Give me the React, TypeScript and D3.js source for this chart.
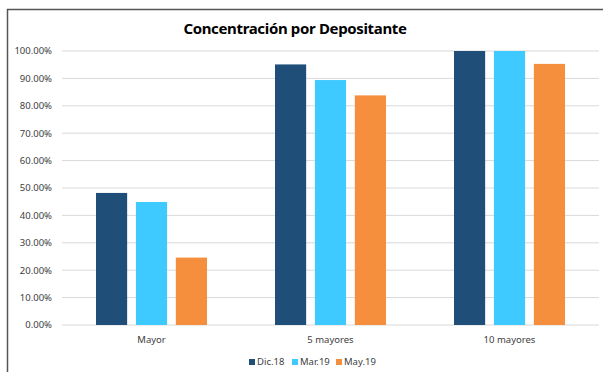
import React, { useEffect, useRef } from "react";
import * as d3 from "d3";

const categories = ["Mayor", "5 mayores", "10 mayores"];
const seriesNames = ["Dic.18", "Mar.19", "May.19"];
const dic18 = [48.2, 95.1, 100.0];
const mar19 = [44.9, 89.4, 100.0];
const may19 = [24.6, 83.8, 95.3];
const yTicks = [0, 10, 20, 30, 40, 50, 60, 70, 80, 90, 100];
const colors = ["#1f4e79", "#3ec9ff", "#f58f3d"];

const W = 603;
const H = 372;

export default function App() {
  const svgRef = useRef<SVGSVGElement | null>(null);

  useEffect(() => {
    const svg = d3.select(svgRef.current);
    svg.selectAll("*").remove();

    const font = "'Noto Sans', 'Open Sans', sans-serif";
    const margin = { top: 51, right: 4, bottom: 47, left: 62 };
    const innerW = W - margin.left - margin.right;
    const innerH = H - margin.top - margin.bottom;

    // frame (top + left edges visible)
    svg.append("line").attr("x1", 7).attr("x2", W).attr("y1", 9.5).attr("y2", 9.5)
      .attr("stroke", "#555").attr("stroke-width", 1.5);
    svg.append("line").attr("x1", 7.5).attr("x2", 7.5).attr("y1", 9).attr("y2", H)
      .attr("stroke", "#555").attr("stroke-width", 1.5);

    svg.append("text")
      .attr("x", 295).attr("y", 34)
      .attr("text-anchor", "middle")
      .attr("font-family", font)
      .attr("font-weight", "bold")
      .attr("font-size", 15)
      .attr("letter-spacing", -0.35)
      .attr("fill", "#000")
      .text("Concentración por Depositante");

    const g = svg.append("g").attr("transform", `translate(${margin.left},${margin.top})`);

    const x0 = d3.scaleBand().domain(categories).range([0, innerW]).paddingInner(0.38).paddingOuter(0.19);
    const x1 = d3.scaleBand().domain(seriesNames).range([0, x0.bandwidth()]).paddingInner(0.22);
    const y = d3.scaleLinear().domain([0, 100]).range([innerH, 0]);

    // gridlines
    g.append("g").selectAll("line").data(yTicks).join("line")
      .attr("x1", 0).attr("x2", innerW)
      .attr("y1", (d) => y(d)).attr("y2", (d) => y(d))
      .attr("stroke", "#d9d9d9").attr("stroke-width", 1);

    // y tick labels
    g.append("g").selectAll("text").data(yTicks).join("text")
      .attr("x", -10).attr("y", (d) => y(d)).attr("dy", "0.35em")
      .attr("text-anchor", "end")
      .attr("font-family", font).attr("font-size", 9.5).attr("fill", "#404040")
      .text((d) => d3.format(".2f")(d) + "%");

    const values = [dic18, mar19, may19];
    categories.forEach((c, ci) => {
      seriesNames.forEach((s, si) => {
        const v = values[si][ci];
        g.append("rect")
          .attr("x", (x0(c) ?? 0) + (x1(s) ?? 0))
          .attr("y", y(v))
          .attr("width", x1.bandwidth())
          .attr("height", innerH - y(v))
          .attr("fill", colors[si]);
      });
      g.append("text")
        .attr("x", (x0(c) ?? 0) + x0.bandwidth() / 2)
        .attr("y", innerH + 18)
        .attr("text-anchor", "middle")
        .attr("font-family", font).attr("font-size", 9.5).attr("fill", "#404040")
        .text(c);
    });

    // legend
    const legendX = [249, 292, 336];
    seriesNames.forEach((s, i) => {
      const lg = svg.append("g").attr("transform", `translate(${legendX[i]},359)`);
      lg.append("rect").attr("width", 6).attr("height", 6).attr("fill", colors[i]);
      lg.append("text").attr("x", 8).attr("y", 3).attr("dy", "0.35em")
        .attr("font-family", font).attr("font-size", 9.5).attr("fill", "#404040")
        .text(s);
    });
  }, []);

  return (
    <svg
      ref={svgRef}
      width={W}
      height={H}
      style={{ position: "absolute", left: 0, top: 0, background: "#fff" }}
    />
  );
}
